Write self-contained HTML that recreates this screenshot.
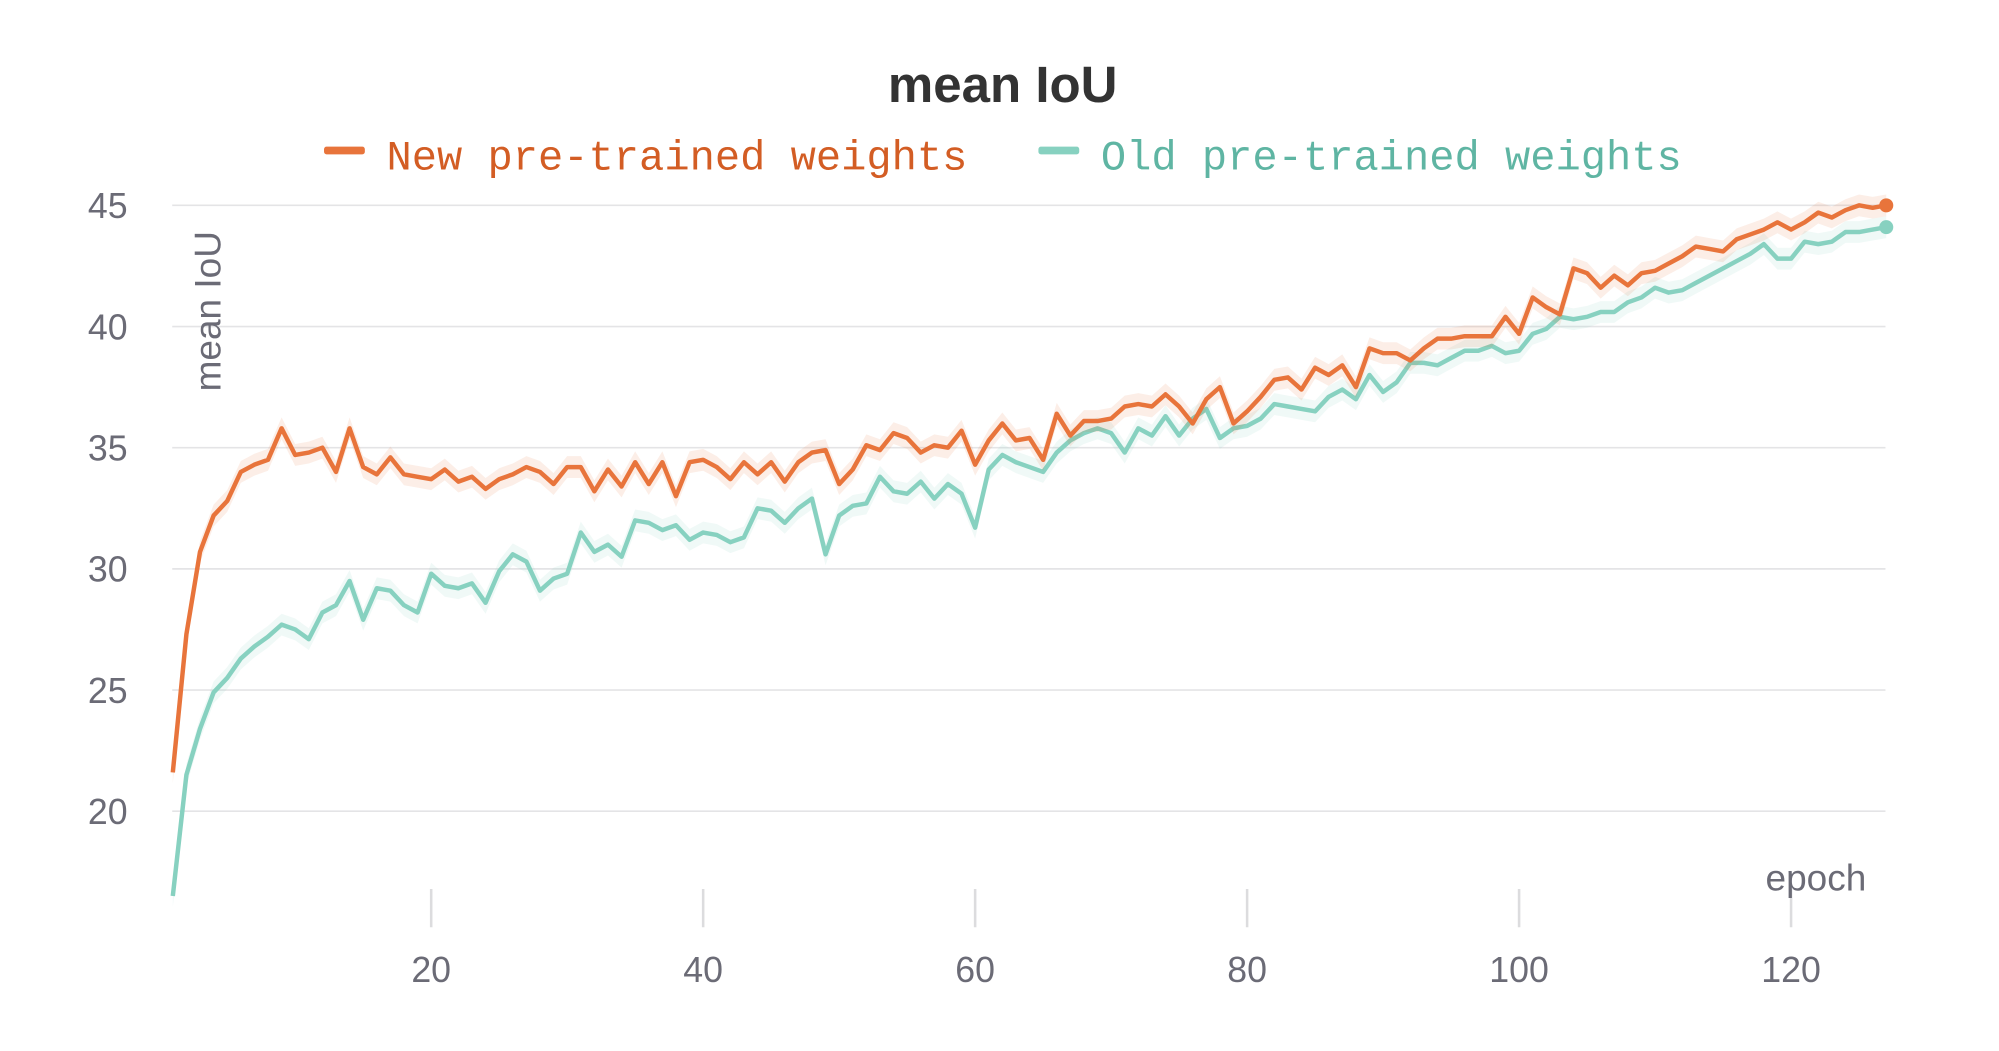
<!DOCTYPE html>
<html><head><meta charset="utf-8"><style>
html,body{margin:0;padding:0;background:#fff;}
svg{display:block;}
</style></head><body>
<svg id="chart" width="1999" height="1051" viewBox="0 0 1567 824" preserveAspectRatio="none" xmlns="http://www.w3.org/2000/svg">
<text x="786" y="80" text-anchor="middle" font-family="Liberation Sans, sans-serif" font-weight="bold" font-size="40" fill="#333">mean IoU</text>
<g>
<rect x="254" y="115" width="32" height="6" rx="2" fill="#e8743b"/>
<text x="303" y="133" font-family="Liberation Mono, monospace" font-size="33" fill="#d35d24">New pre-trained weights</text>
<rect x="814" y="115" width="32" height="6" rx="2" fill="#87d1c0"/>
<text x="863" y="133" font-family="Liberation Mono, monospace" font-size="33" fill="#5fb5a3">Old pre-trained weights</text>
</g>
<g id="grid"></g>
<g id="xaxis"></g>
<text transform="translate(173,244) rotate(-90)" text-anchor="middle" font-family="Liberation Sans, sans-serif" font-size="29" fill="#6b6b76">mean IoU</text>
<text x="1463" y="698" text-anchor="end" font-family="Liberation Sans, sans-serif" font-size="29" fill="#6b6b76">epoch</text>
<g id="series"></g>
</svg>
<script>
const yTicks = [20, 25, 30, 35, 40, 45];
const xTicks = [20, 40, 60, 80, 100, 120];
const newWeights = [21.6,27.3,30.7,32.2,32.8,34.0,34.3,34.5,35.8,34.7,34.8,35.0,34.0,35.8,34.2,33.9,34.6,33.9,33.8,33.7,34.1,33.6,33.8,33.3,33.7,33.9,34.2,34.0,33.5,34.2,34.2,33.2,34.1,33.4,34.4,33.5,34.4,33.0,34.4,34.5,34.2,33.7,34.4,33.9,34.4,33.6,34.4,34.8,34.9,33.5,34.1,35.1,34.9,35.6,35.4,34.8,35.1,35.0,35.7,34.3,35.3,36.0,35.3,35.4,34.5,36.4,35.5,36.1,36.1,36.2,36.7,36.8,36.7,37.2,36.7,36.0,37.0,37.5,36.0,36.5,37.1,37.8,37.9,37.4,38.3,38.0,38.4,37.5,39.1,38.9,38.9,38.6,39.1,39.5,39.5,39.6,39.6,39.6,40.4,39.7,41.2,40.8,40.5,42.4,42.2,41.6,42.1,41.7,42.2,42.3,42.6,42.9,43.3,43.2,43.1,43.6,43.8,44.0,44.3,44.0,44.3,44.7,44.5,44.8,45.0,44.9,45.0];
const oldWeights = [16.5,21.5,23.4,24.9,25.5,26.3,26.8,27.2,27.7,27.5,27.1,28.2,28.5,29.5,27.9,29.2,29.1,28.5,28.2,29.8,29.3,29.2,29.4,28.6,29.9,30.6,30.3,29.1,29.6,29.8,31.5,30.7,31.0,30.5,32.0,31.9,31.6,31.8,31.2,31.5,31.4,31.1,31.3,32.5,32.4,31.9,32.5,32.9,30.6,32.2,32.6,32.7,33.8,33.2,33.1,33.6,32.9,33.5,33.1,31.7,34.1,34.7,34.4,34.2,34.0,34.8,35.3,35.6,35.8,35.6,34.8,35.8,35.5,36.3,35.5,36.2,36.6,35.4,35.8,35.9,36.2,36.8,36.7,36.6,36.5,37.1,37.4,37.0,38.0,37.3,37.7,38.5,38.5,38.4,38.7,39.0,39.0,39.2,38.9,39.0,39.7,39.9,40.4,40.3,40.4,40.6,40.6,41.0,41.2,41.6,41.4,41.5,41.8,42.1,42.4,42.7,43.0,43.4,42.8,42.8,43.5,43.4,43.5,43.9,43.9,44.0,44.1];

const NS = "http://www.w3.org/2000/svg";
const X0 = 124.8, XS = 10.66;
const xPos = e => X0 + XS * e;
const yPos = v => 161 + (45 - v) * 19;
function mk(tag, attrs, parent){const el=document.createElementNS(NS,tag);for(const k in attrs)el.setAttribute(k,attrs[k]);parent.appendChild(el);return el;}

const grid = document.getElementById('grid');
yTicks.forEach(t=>{
  const l = mk('line',{x1:135,x2:1478,y1:yPos(t),y2:yPos(t),stroke:'#e4e4e6','stroke-width':1.3},grid);
  
  
  const tx = mk('text',{x:100,y:yPos(t)+10,'text-anchor':'end','font-family':'Liberation Sans, sans-serif','font-size':28,fill:'#6b6b76'},grid);
  tx.textContent = t;
  
  
});
const xa = document.getElementById('xaxis');
xTicks.forEach(t=>{
  const l = mk('line',{x1:xPos(t),x2:xPos(t),y1:697,y2:727,stroke:'#dcdcde','stroke-width':2},xa);
  
  
  const tx = mk('text',{x:xPos(t),y:770,'text-anchor':'middle','font-family':'Liberation Sans, sans-serif','font-size':28,fill:'#6b6b76'},xa);
  tx.textContent = t;
  
  
});

const sg = document.getElementById('series');
function drawSeries(vals, color, name){
  let up='', dn='';
  vals.forEach((v,i)=>{ up += (i?'L':'M')+xPos(i+1)+','+yPos(v+0.45); });
  for(let i=vals.length-1;i>=0;i--){ dn += 'L'+xPos(i+1)+','+yPos(vals[i]-0.45); }
  const band = mk('path',{d:up+dn+'Z',fill:color,opacity:0.12},sg);
  
  
  let d='';
  vals.forEach((v,i)=>{ d += (i?'L':'M')+xPos(i+1)+','+yPos(v); });
  const p = mk('path',{d:d,fill:'none',stroke:color,'stroke-width':3.5,'stroke-linejoin':'round'},sg);
  
  
  const n = vals.length;
  const c = mk('circle',{cx:xPos(n),cy:yPos(vals[n-1]),r:5.5,fill:color},sg);
  
  
}
drawSeries(oldWeights,'#87d1c0','old-weights');
drawSeries(newWeights,'#e8743b','new-weights');
</script>
</body></html>
